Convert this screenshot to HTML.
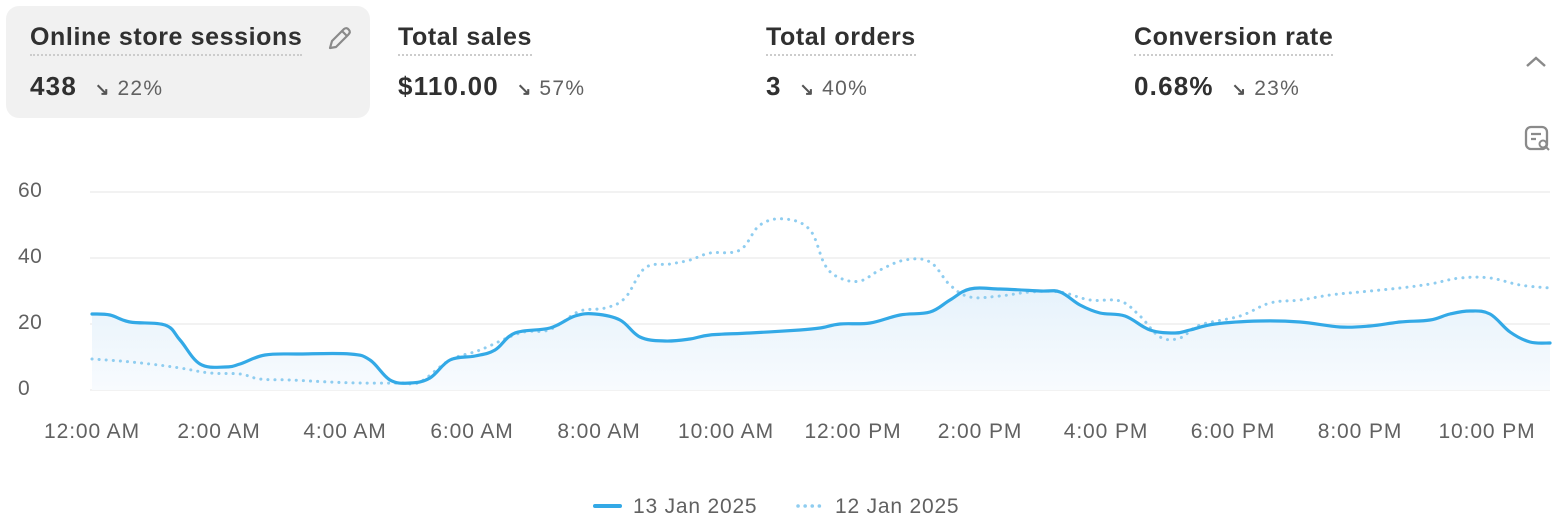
<!DOCTYPE html>
<html><head><meta charset="utf-8"><style>
body{margin:0;width:1566px;height:530px;background:#fff;font-family:"Liberation Sans",sans-serif;position:relative;overflow:hidden;color:#303030}
.card{position:absolute;top:6px;height:112px}
.t{position:absolute;top:23px;font-size:25px;font-weight:bold;color:#303030;border-bottom:2px dotted #ccc;padding-bottom:2px;white-space:nowrap;letter-spacing:0.6px}
.v{position:absolute;top:71px;font-size:26px;font-weight:bold;white-space:nowrap;letter-spacing:1.2px}
.v span{font-weight:normal;font-size:21px;color:#616161;letter-spacing:1.3px}
.v i{font-style:normal;font-size:17px;font-weight:bold;color:#555;margin-left:18px;margin-right:7px}
.yl{position:absolute;left:18px;font-size:21px;color:#616161;letter-spacing:0.5px}
.xl{position:absolute;top:420px;font-size:21px;color:#616161;transform:translateX(-50%);white-space:nowrap;letter-spacing:0.9px}
</style></head><body>
<div class="card" style="left:6px;width:364px;background:#f1f1f1;border-radius:13px"></div>
<div class="t" style="left:30px">Online store sessions</div>
<svg style="position:absolute;left:325px;top:25px" width="28" height="28" viewBox="0 0 28 28"><path d="M5 23 L7 16 L19 4 Q22 2 24 5 Q26 7 23 10 L11 22 Z M17 6 L22 11" fill="none" stroke="#8a8a8a" stroke-width="2.2" stroke-linejoin="round"/></svg>
<div class="v" style="left:30px">438<i>↘</i><span>22%</span></div>
<div class="t" style="left:398px">Total sales</div>
<div class="v" style="left:398px">$110.00<i>↘</i><span>57%</span></div>
<div class="t" style="left:766px">Total orders</div>
<div class="v" style="left:766px">3<i>↘</i><span>40%</span></div>
<div class="t" style="left:1134px">Conversion rate</div>
<div class="v" style="left:1134px">0.68%<i>↘</i><span>23%</span></div>
<svg style="position:absolute;left:1524px;top:52px" width="24" height="20"><path d="M3 14 L12 6 L21 14" fill="none" stroke="#8a8a8a" stroke-width="2.5"/></svg>
<svg style="position:absolute;left:1524px;top:125px" width="28" height="28" viewBox="0 0 28 28"><rect x="2" y="2" width="21" height="22" rx="5" fill="none" stroke="#8a8a8a" stroke-width="2.3"/><path d="M7 9h10M7 14h5" stroke="#8a8a8a" stroke-width="2.3"/><circle cx="19" cy="19" r="3.5" fill="#fff" stroke="#8a8a8a" stroke-width="2"/><path d="M21.5 21.5 L25 25" stroke="#8a8a8a" stroke-width="2"/></svg>
<div class="yl" style="top:179px">60</div>
<div class="yl" style="top:245px">40</div>
<div class="yl" style="top:311px">20</div>
<div class="yl" style="top:377px">0</div>
<svg style="position:absolute;left:0;top:0" width="1566" height="530">
<g stroke="#ebebeb" stroke-width="1.3"><line x1="90" y1="192" x2="1550" y2="192"/><line x1="90" y1="258" x2="1550" y2="258"/><line x1="90" y1="324" x2="1550" y2="324"/><line x1="90" y1="390" x2="1550" y2="390"/></g>
<defs><linearGradient id="g" x1="0" y1="0" x2="0" y2="1"><stop offset="0" stop-color="#e6f2fb"/><stop offset="1" stop-color="#f8fbfe"/></linearGradient></defs>
<path id="area" fill="url(#g)" d=""/>
<path id="dot" fill="none" stroke="#8fcdf0" stroke-width="3" stroke-dasharray="0.1 7" stroke-linecap="round" d=""/>
<path id="sol" fill="none" stroke="#33a9e6" stroke-width="3.2" stroke-linecap="round" d=""/>
<line x1="595" y1="506" x2="620" y2="506" stroke="#33a9e6" stroke-width="4" stroke-linecap="round"/>
<line x1="798" y1="506" x2="822" y2="506" stroke="#8fcdf0" stroke-width="3.5" stroke-dasharray="0.1 7" stroke-linecap="round"/>
<text x="633" y="513" font-size="21" fill="#616161" font-family="Liberation Sans" letter-spacing="0.8">13 Jan 2025</text>
<text x="835" y="513" font-size="21" fill="#616161" font-family="Liberation Sans" letter-spacing="0.8">12 Jan 2025</text>
</svg>
<div class="xl" style="left:92px">12:00 AM</div>
<div class="xl" style="left:219px">2:00 AM</div>
<div class="xl" style="left:345px">4:00 AM</div>
<div class="xl" style="left:472px">6:00 AM</div>
<div class="xl" style="left:599px">8:00 AM</div>
<div class="xl" style="left:726px">10:00 AM</div>
<div class="xl" style="left:853px">12:00 PM</div>
<div class="xl" style="left:980px">2:00 PM</div>
<div class="xl" style="left:1106px">4:00 PM</div>
<div class="xl" style="left:1233px">6:00 PM</div>
<div class="xl" style="left:1360px">8:00 PM</div>
<div class="xl" style="left:1487px">10:00 PM</div>
<script>
var S=[92,314,110,315,130,322,165,325,180,340,200,364,225,367,240,364,265,355,300,354,350,354,370,360,390,380,410,383,430,378,450,360,475,356,495,350,515,333,550,328,575,316,595,314,620,320,640,337,665,341,690,339,710,335,750,333,800,330,820,328,840,324,870,323,900,315,930,312,950,300,970,289,1000,289,1040,291,1060,292,1080,305,1100,313,1125,316,1150,330,1175,333,1190,330,1215,324,1260,321,1300,322,1340,327,1370,326,1400,322,1430,320,1450,314,1470,311,1490,314,1510,332,1530,342,1550,343];
var D=[92,359,120,361,150,364,180,368,210,373,240,374,260,379,290,380,330,382,360,383,400,383,420,382,450,360,480,350,520,333,545,331,560,324,580,311,605,308,625,298,645,268,670,264,690,260,710,253,740,250,760,225,785,219,810,230,825,265,840,278,860,281,880,270,905,260,930,262,950,285,970,297,1000,296,1030,292,1060,292,1090,300,1120,301,1140,316,1160,337,1180,338,1200,325,1240,316,1270,303,1300,300,1330,295,1360,292,1400,288,1430,284,1460,278,1490,278,1520,285,1550,288];
function cr(a){var p=[];for(var i=0;i<a.length;i+=2)p.push([a[i],a[i+1]]);var d="M"+p[0][0]+","+p[0][1];for(var i=0;i<p.length-1;i++){var p0=p[i-1]||p[i],p1=p[i],p2=p[i+1],p3=p[i+2]||p2;var t=0.18;d+=" C"+(p1[0]+(p2[0]-p0[0])*t)+","+(p1[1]+(p2[1]-p0[1])*t)+" "+(p2[0]-(p3[0]-p1[0])*t)+","+(p2[1]-(p3[1]-p1[1])*t)+" "+p2[0]+","+p2[1];}return d;}
var s=cr(S);document.getElementById('sol').setAttribute('d',s);
document.getElementById('dot').setAttribute('d',cr(D));
document.getElementById('area').setAttribute('d',s+" L1550,390 L92,390 Z");
</script>
</body></html>
